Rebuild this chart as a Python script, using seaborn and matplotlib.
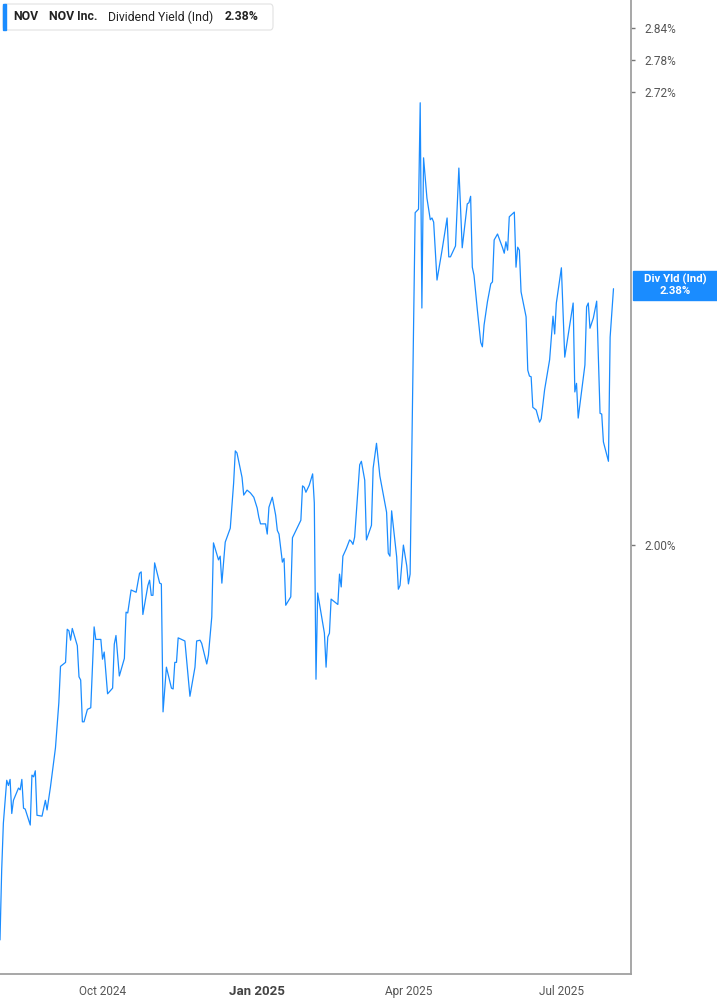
import numpy as np
import pandas as pd
import matplotlib
matplotlib.use('Agg')
import matplotlib.pyplot as plt
from matplotlib.ticker import FixedLocator, NullLocator, FuncFormatter
from matplotlib.patches import FancyBboxPatch, Rectangle
import seaborn as sns

# data
start_date = '2024-08-01'
day_offsets = [
    0, 1, 2, 4, 5, 6, 7, 8, 11, 12,
    13, 14, 15, 18, 19, 20, 21, 22, 25, 27,
    28, 30, 33, 35, 36, 39, 40, 41, 42, 43,
    46, 47, 48, 49, 50, 52, 54, 56, 57, 60,
    61, 62, 64, 67, 68, 69, 71, 74, 75, 76,
    78, 81, 83, 84, 85, 88, 89, 90, 91, 92,
    95, 96, 97, 99, 102, 103, 104, 105, 106, 109,
    110, 113, 116, 117, 119, 120, 123, 124, 126, 127,
    130, 131, 132, 134, 137, 139, 140, 141, 144, 145,
    147, 149, 151, 153, 154, 155, 158, 159, 160, 162,
    164, 165, 166, 168, 169, 170, 173, 174, 179, 180,
    181, 182, 184, 186, 187, 188, 189, 193, 194, 195,
    196, 197, 201, 202, 203, 204, 206, 208, 209, 210,
    211, 214, 215, 217, 218, 221, 222, 224, 226, 230,
    231, 232, 233, 236, 237, 238, 240, 242, 243, 244,
    247, 249, 250, 251, 252, 254, 256, 257, 258, 260,
    263, 266, 267, 268, 271, 273, 275, 278, 279, 280,
    281, 282, 284, 286, 287, 288, 290, 292, 293, 294,
    296, 299, 300, 301, 302, 303, 306, 307, 308, 309,
    310, 313, 314, 315, 316, 317, 319, 321, 322, 324,
    327, 329, 330, 331, 334, 336, 339, 341, 342, 343,
    344, 348, 349, 350, 351, 353, 355, 357, 358, 359,
    362, 363, 365,
]
div_yield = [
    1.530, 1.604, 1.656, 1.705, 1.699, 1.706, 1.667, 1.682, 1.696, 1.694,
    1.706, 1.673, 1.672, 1.654, 1.711, 1.709, 1.716, 1.665, 1.664, 1.682,
    1.671, 1.697, 1.743, 1.797, 1.842, 1.847, 1.889, 1.887, 1.875, 1.890,
    1.868, 1.829, 1.825, 1.774, 1.774, 1.789, 1.791, 1.892, 1.876, 1.876,
    1.851, 1.860, 1.808, 1.815, 1.870, 1.881, 1.830, 1.852, 1.911, 1.910,
    1.940, 1.937, 1.962, 1.964, 1.908, 1.946, 1.953, 1.933, 1.933, 1.976,
    1.949, 1.948, 1.786, 1.841, 1.815, 1.814, 1.847, 1.847, 1.878, 1.875,
    1.874, 1.805, 1.841, 1.874, 1.875, 1.871, 1.845, 1.856, 1.905, 2.003,
    1.980, 1.985, 1.949, 2.004, 2.023, 2.086, 2.132, 2.129, 2.094, 2.069,
    2.076, 2.072, 2.066, 2.051, 2.038, 2.029, 2.029, 2.015, 2.052, 2.066,
    2.041, 2.020, 2.015, 1.977, 1.982, 1.920, 1.931, 2.010, 2.034, 2.082,
    2.080, 2.073, 2.083, 2.099, 2.058, 1.826, 1.936, 1.884, 1.841, 1.879,
    1.884, 1.928, 1.921, 1.961, 1.944, 1.985, 1.995, 2.007, 2.005, 2.001,
    2.011, 2.112, 2.117, 2.090, 2.007, 2.027, 2.107, 2.143, 2.096, 2.045,
    1.989, 1.985, 2.047, 1.984, 1.941, 1.946, 2.000, 1.972, 1.948, 1.961,
    2.506, 2.512, 2.700, 2.349, 2.601, 2.531, 2.494, 2.497, 2.490, 2.394,
    2.443, 2.497, 2.432, 2.432, 2.450, 2.583, 2.447, 2.521, 2.523, 2.534,
    2.415, 2.402, 2.346, 2.295, 2.288, 2.322, 2.359, 2.388, 2.391, 2.460,
    2.470, 2.447, 2.438, 2.457, 2.443, 2.499, 2.507, 2.415, 2.448, 2.443,
    2.375, 2.335, 2.252, 2.243, 2.242, 2.196, 2.192, 2.174, 2.179, 2.222,
    2.268, 2.336, 2.308, 2.357, 2.414, 2.272, 2.322, 2.357, 2.219, 2.232,
    2.180, 2.260, 2.351, 2.357, 2.317, 2.333, 2.360, 2.187, 2.186, 2.145,
    2.117, 2.303, 2.380,
]

ytick_values = [2.00, 2.72, 2.78, 2.84]
xtick_dates = ['2024-10-01', '2025-01-01', '2025-04-01', '2025-07-01']
xtick_labels = ['Oct 2024', 'Jan 2025', 'Apr 2025', 'Jul 2025']

ticker = 'NOV'
company = 'NOV Inc.'
metric = 'Dividend Yield (Ind)'
short_metric = 'Div Yld (Ind)'

blue = '#1a8cff'
W, H = 717, 1005

sns.set_style('white')
plt.rcParams['font.family'] = ['Roboto', 'DejaVu Sans']

dates = pd.to_datetime(start_date) + pd.to_timedelta(day_offsets, unit='D')
df = pd.DataFrame({'date': dates, 'yield': div_yield})

fig = plt.figure(figsize=(W / 100, H / 100), dpi=100)
ax = fig.add_axes([0, 31 / H, 631 / W, 974 / H])

sns.lineplot(data=df, x='date', y='yield', ax=ax, color=blue, linewidth=0.9)

ax.set_yscale('log')
ax.set_ylim(1.495, 2.895)
ax.set_xlim(pd.Timestamp(start_date), pd.Timestamp('2025-08-11 10:00'))
ax.set_xlabel('')
ax.set_ylabel('')

# y axis on the right
ax.yaxis.tick_right()
ax.yaxis.set_major_locator(FixedLocator(ytick_values))
ax.yaxis.set_minor_locator(NullLocator())
ax.yaxis.set_major_formatter(FuncFormatter(lambda v, p: f'{v:.2f}%'))
ax.tick_params(axis='y', which='major', right=True, left=False, length=3,
               width=1, color='#777777', direction='out', pad=7,
               labelsize=8.5, labelcolor='#555555')

ax.set_xticks(pd.to_datetime(xtick_dates))
ax.set_xticklabels(xtick_labels)
ax.tick_params(axis='x', length=4, width=1, color='#777777', direction='out',
               pad=4, labelsize=8.5, labelcolor='#555555')
jan = ax.get_xticklabels()[1]
jan.set_fontweight('bold')
jan.set_fontsize(9.5)
jan.set_color('#444444')

for side in ['left', 'top']:
    ax.spines[side].set_visible(False)
for side in ['right', 'bottom']:
    ax.spines[side].set_color('#a0a0a0')
    ax.spines[side].set_linewidth(1.3)
ax.grid(False)


def fx(px):
    return px / W


def fy(py):
    return 1 - py / H


# header box
head = FancyBboxPatch((fx(3), fy(30)), fx(270), 26 / H,
                      boxstyle='round,pad=0,rounding_size=0.004',
                      transform=fig.transFigure, facecolor='white',
                      edgecolor='#e2e2e2', linewidth=0.8)
fig.add_artist(head)
fig.add_artist(Rectangle((fx(3), fy(30)), fx(3), 26 / H,
                         transform=fig.transFigure, color=blue))
fig.text(fx(13), fy(17), ticker, fontsize=8.8, fontweight='bold',
         color='#222222', va='center')
fig.text(fx(49), fy(17), company, fontsize=8.8, fontweight='bold',
         color='#222222', va='center')
fig.text(fx(108), fy(17), metric, fontsize=8.8, color='#222222', va='center')
fig.text(fx(225), fy(17), f'{div_yield[-1]:.2f}%', fontsize=8.8,
         fontweight='bold', color='#222222', va='center')

# last value label on the right axis
fig.canvas.draw()
y_last = ax.transData.transform((ax.get_xlim()[1], div_yield[-1]))[1]
box_h = 29
box_bottom = y_last - box_h / 2 + 3.5
fig.add_artist(Rectangle((fx(633), box_bottom / H), fx(84), box_h / H,
                         transform=fig.transFigure, color=blue))
fig.text(fx(675), (box_bottom + 20) / H, short_metric, fontsize=8.2,
         fontweight='bold', color='white', ha='center', va='center')
fig.text(fx(675), (box_bottom + 8.5) / H, f'{div_yield[-1]:.2f}%', fontsize=8.2,
         fontweight='bold', color='white', ha='center', va='center')

fig.savefig('out.png', dpi=100)
